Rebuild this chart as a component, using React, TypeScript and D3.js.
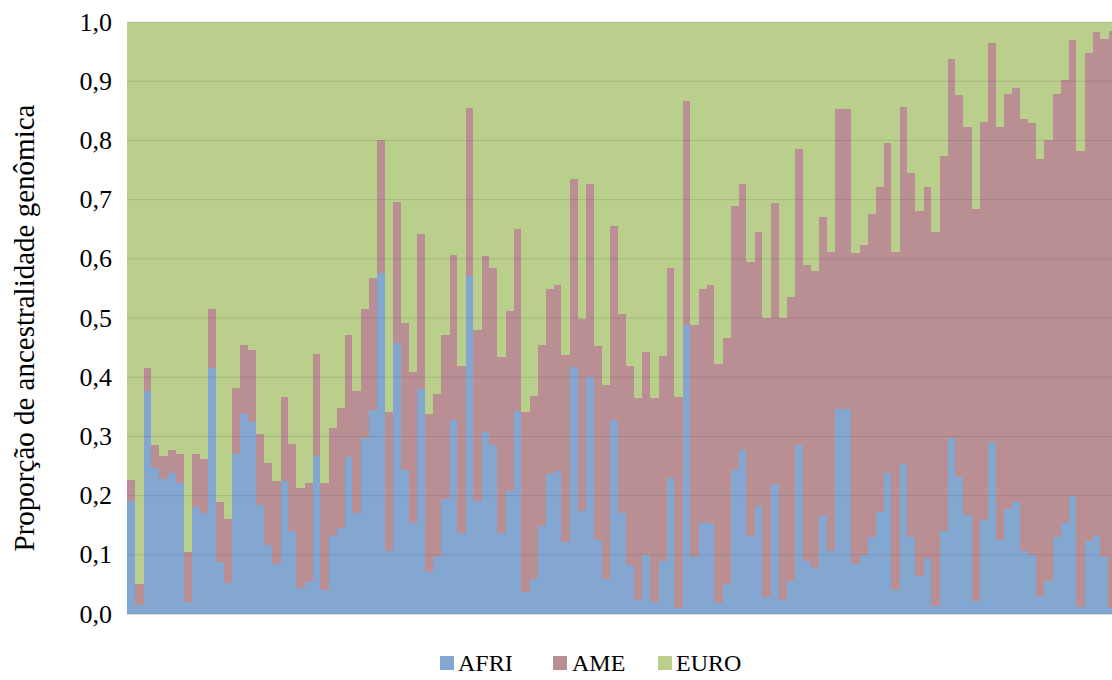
import React from "react";
import * as d3 from "d3";

const AFRI = [0.191,0.015,0.376,0.247,0.228,0.238,0.222,0.021,0.180,0.171,
0.415,0.087,0.052,0.271,0.338,0.325,0.184,0.117,0.084,0.224,
0.140,0.044,0.054,0.267,0.040,0.132,0.146,0.265,0.171,0.297,
0.345,0.576,0.107,0.457,0.244,0.153,0.380,0.071,0.096,0.195,
0.328,0.137,0.571,0.191,0.308,0.286,0.137,0.207,0.343,0.038,
0.059,0.148,0.236,0.242,0.122,0.417,0.174,0.401,0.125,0.059,
0.327,0.171,0.082,0.024,0.099,0.020,0.089,0.230,0.010,0.488,
0.097,0.153,0.154,0.019,0.051,0.244,0.277,0.131,0.183,0.028,
0.219,0.023,0.055,0.286,0.089,0.077,0.168,0.106,0.346,0.346,
0.085,0.099,0.130,0.172,0.239,0.040,0.254,0.130,0.065,0.095,
0.013,0.140,0.297,0.231,0.168,0.022,0.158,0.290,0.125,0.178,
0.189,0.107,0.099,0.031,0.055,0.130,0.153,0.199,0.011,0.123,
0.131,0.097,0.010];

const AME = [0.035,0.036,0.039,0.039,0.039,0.039,0.049,0.084,0.091,0.090,
0.100,0.102,0.108,0.111,0.117,0.121,0.120,0.138,0.140,0.142,
0.148,0.169,0.168,0.172,0.182,0.183,0.202,0.206,0.205,0.218,
0.223,0.225,0.234,0.239,0.247,0.256,0.262,0.266,0.275,0.276,
0.279,0.282,0.284,0.289,0.297,0.298,0.297,0.305,0.307,0.303,
0.310,0.307,0.313,0.314,0.315,0.318,0.324,0.325,0.328,0.328,
0.329,0.335,0.337,0.341,0.344,0.345,0.346,0.354,0.356,0.379,
0.391,0.396,0.402,0.403,0.416,0.446,0.449,0.463,0.463,0.472,
0.475,0.477,0.481,0.499,0.501,0.502,0.502,0.505,0.507,0.507,
0.524,0.525,0.545,0.549,0.556,0.572,0.603,0.615,0.616,0.626,
0.632,0.633,0.640,0.646,0.655,0.662,0.673,0.675,0.698,0.701,
0.700,0.729,0.731,0.738,0.745,0.748,0.749,0.771,0.771,0.825,
0.852,0.874,0.975];

const EURO = [0.774,0.949,0.585,0.714,0.733,0.723,0.729,0.895,0.729,0.739,
0.485,0.811,0.840,0.618,0.545,0.554,0.696,0.745,0.776,0.634,
0.712,0.787,0.778,0.561,0.778,0.685,0.652,0.529,0.624,0.485,
0.432,0.199,0.659,0.304,0.509,0.591,0.358,0.663,0.629,0.529,
0.393,0.581,0.145,0.520,0.395,0.416,0.566,0.488,0.350,0.659,
0.631,0.545,0.451,0.444,0.563,0.265,0.502,0.274,0.547,0.613,
0.344,0.494,0.581,0.635,0.557,0.635,0.565,0.416,0.634,0.133,
0.512,0.451,0.444,0.578,0.533,0.310,0.274,0.406,0.354,0.500,
0.306,0.500,0.464,0.215,0.410,0.421,0.330,0.389,0.147,0.147,
0.391,0.376,0.325,0.279,0.205,0.388,0.143,0.255,0.319,0.279,
0.355,0.227,0.063,0.123,0.177,0.316,0.169,0.035,0.177,0.121,
0.111,0.164,0.170,0.231,0.200,0.122,0.098,0.030,0.218,0.052,
0.017,0.029,0.015];

const SAMPLES = AFRI.map((_, i) => `S${i + 1}`);
const SERIES = ["AFRI", "AME", "EURO"];
const Y_TICKS = [0, 0.1, 0.2, 0.3, 0.4, 0.5, 0.6, 0.7, 0.8, 0.9, 1.0];
const Y_TITLE = "Proporção de ancestralidade genômica";

const COLORS: Record<string, string> = {
  AFRI: "#84A7D1",
  AME: "#B98F94",
  EURO: "#B9CF8B",
};

const FONT = "'Liberation Serif', 'Times New Roman', serif";

export default function App() {
  const W = 1112;
  const H = 680;
  const x0 = 127.3;
  const bw = 8.04;
  const yTop = 22;
  const yBot = 614;

  const rows = SAMPLES.map((s, i) => ({ id: s, AFRI: AFRI[i], AME: AME[i], EURO: EURO[i] }));
  const stack = d3.stack<any>().keys(SERIES)(rows);

  const x = d3.scaleBand<string>().domain(SAMPLES).range([x0, x0 + bw * SAMPLES.length]).padding(0);
  const y = d3.scaleLinear().domain([0, 1]).range([yBot, yTop]);
  const fmt = (v: number) => v.toFixed(1).replace(".", ",");

  const legend = [
    { k: "AFRI", sx: 440, tx: 458 },
    { k: "AME", sx: 553, tx: 572 },
    { k: "EURO", sx: 658, tx: 676 },
  ];

  return (
    <svg width={W} height={H} style={{ position: "absolute", left: 0, top: 0, background: "#fff" }}>
      <rect x={0} y={0} width={W} height={H} fill="#fff" />
      {stack.map((layer) => (
        <g key={layer.key} fill={COLORS[layer.key]} shapeRendering="crispEdges">
          {layer.map((d: any, i: number) => (
            <rect
              key={i}
              x={x(d.data.id)!}
              y={y(d[1])}
              width={x.bandwidth() + 0.6}
              height={Math.max(0, y(d[0]) - y(d[1]))}
            />
          ))}
        </g>
      ))}
      {Y_TICKS.map((t) => (
        <line key={"g" + t} x1={x0} x2={W} y1={y(t)} y2={y(t)} stroke="#000" strokeOpacity={0.1} strokeWidth={1} />
      ))}
      <line x1={x0} x2={W} y1={yBot + 0.5} y2={yBot + 0.5} stroke="#d9d9d9" strokeWidth={1} />
      {Y_TICKS.map((t) => (
        <text
          key={"t" + t}
          x={112}
          y={y(t)}
          textAnchor="end"
          dominantBaseline="central"
          fontFamily={FONT}
          fontSize={26}
          fill="#000"
        >
          {fmt(t)}
        </text>
      ))}
      <text
        transform={`translate(24, ${(yTop + yBot) / 2 + 10}) rotate(-90)`}
        textAnchor="middle"
        dominantBaseline="central"
        fontFamily={FONT}
        fontSize={29}
        fill="#000"
      >
        {Y_TITLE}
      </text>
      {legend.map((l) => (
        <g key={l.k}>
          <rect x={l.sx} y={656} width={14} height={14} fill={COLORS[l.k]} />
          <text x={l.tx} y={663} dominantBaseline="central" fontFamily={FONT} fontSize={24} fill="#000">
            {l.k}
          </text>
        </g>
      ))}
    </svg>
  );
}
